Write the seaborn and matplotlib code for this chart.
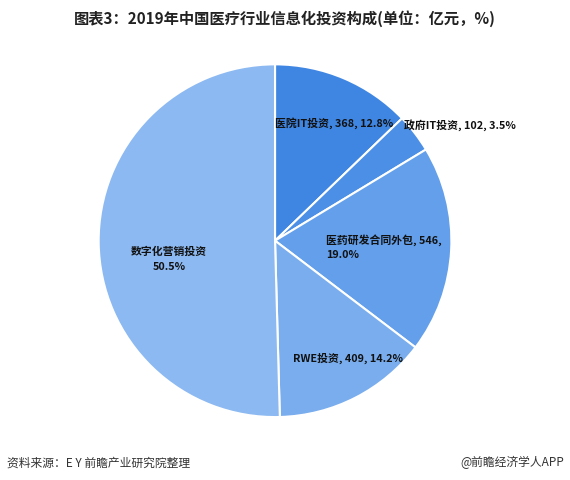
import matplotlib
matplotlib.use("Agg")
import matplotlib.pyplot as plt
import seaborn as sns

sns.set_theme(style="white")
plt.rcParams['font.family'] = ['Noto Sans CJK SC', 'DejaVu Sans']

categories = ["医院IT投资", "政府IT投资", "医药研发合同外包", "RWE投资", "数字化营销投资"]
values = [368, 102, 546, 409, 1450]
pcts = ["12.8%", "3.5%", "19.0%", "14.2%", "50.5%"]
colors = ["#3f86e3", "#4b8fe6", "#639fea", "#79adee", "#8cb9f1"]

fig = plt.figure(figsize=(5.70, 4.81), dpi=100)
ax = fig.add_axes([0.170, 0.125, 0.625, 0.745])
wedges, _ = ax.pie(values, colors=colors, startangle=90, counterclock=False,
                   wedgeprops=dict(edgecolor="white", linewidth=1.5))
ax.set_xlim(-1.01, 1.01)
ax.set_ylim(-1.01, 1.01)
ax.set_aspect("equal")

lab = [
    (0.0, 0.67, f"{categories[0]}, {values[0]}, {pcts[0]}", "left"),
    (0.73, 0.66, f"{categories[1]}, {values[1]}, {pcts[1]}", "left"),
    (0.29, -0.03, f"{categories[2]}, {values[2]},\n{pcts[2]}", "left"),
    (0.10, -0.66, f"{categories[3]}, {values[3]}, {pcts[3]}", "left"),
    (-0.60, -0.10, f"{categories[4]}\n{pcts[4]}", "center"),
]
for x, y, t, ha in lab:
    ax.text(x, y, t, ha=ha, va="center", fontsize=7.8, fontweight="bold",
            color="#111111", linespacing=1.6)

fig.text(0.5, 0.962, "图表3：2019年中国医疗行业信息化投资构成(单位：亿元，%)",
         ha="center", va="center", fontsize=11, fontweight="bold", color="#222222")
fig.text(0.012, 0.038, "资料来源：E Y 前瞻产业研究院整理", ha="left", va="center", fontsize=8.5, color="#333333")
fig.text(0.99, 0.038, "@前瞻经济学人APP", ha="right", va="center", fontsize=8.5, color="#333333")
fig.savefig("out.png", dpi=100)
